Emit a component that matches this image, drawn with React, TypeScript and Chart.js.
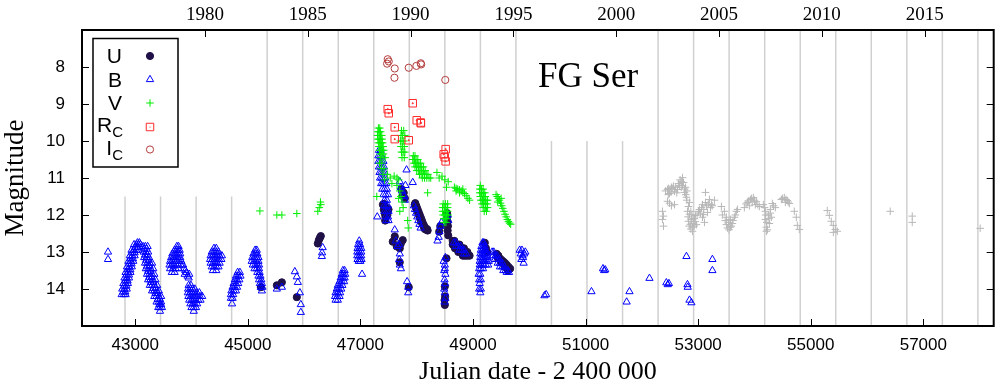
import React, { useEffect, useRef } from 'react';
import { Chart, registerables } from 'chart.js';
import { drawPoint } from 'chart.js/helpers';

Chart.register(...registerables);

type P = [number, number];

// ---------- data (JD - 2400000, magnitude) ----------
const uBand: P[] = [
  [45232, 13.95], [45516, 13.9], [45605, 13.82], [45871, 14.22],
  [46244, 12.77], [46262, 12.68], [46280, 12.62], [46297, 12.57],
  [47400, 11.72], [47415, 11.85], [47430, 11.95], [47445, 12.05], [47460, 11.8], [47440, 12.15],
  [47500, 11.85], [47480, 12.0], [47420, 11.7],
  [47611, 12.58], [47575, 12.72], [47646, 12.85], [47717, 12.78], [47752, 12.68], [47700, 12.9],
  [47699, 13.28], [47859, 13.95],
  [47752, 11.47], [47730, 11.3], [47770, 11.4], [47790, 11.55],
  [47965, 11.72], [47985, 11.78], [48005, 11.86], [48025, 11.94], [48045, 12.02], [48065, 12.1],
  [48085, 12.18], [48105, 12.25], [48125, 12.32], [48145, 12.38], [48175, 12.4], [48195, 12.42],
  [47975, 11.68], [47995, 11.76], [48015, 11.84], [48035, 11.92], [48055, 12.0], [48075, 12.08],
  [48095, 12.16], [48115, 12.24], [48135, 12.3], [48155, 12.36], [48185, 12.38],
  [48400, 12.45], [48420, 12.3], [48540, 11.95], [48545, 12.05], [48550, 12.18], [48555, 12.3],
  [48550, 12.42], [48560, 12.55], [48530, 13.17],
  [48500, 13.93], [48505, 14.2], [48500, 14.43], [48495, 14.3],
  [48640, 12.7], [48670, 12.7], [48640, 12.8], [48680, 12.8], [48720, 12.8], [48760, 12.8],
  [48680, 12.9], [48720, 12.9], [48760, 12.9], [48800, 12.9], [48840, 12.9],
  [48740, 13.0], [48780, 13.0], [48820, 13.0], [48860, 13.0], [48900, 13.0],
  [48820, 13.1], [48860, 13.1], [48900, 13.1], [48940, 13.1],
  [49210, 12.75], [49230, 12.9], [49250, 13.0],
  [49420, 13.05], [49450, 13.1], [49480, 13.18], [49510, 13.22], [49540, 13.26], [49570, 13.3],
  [49600, 13.35], [49630, 13.4], [49660, 13.45], [49440, 13.15], [49500, 13.28], [49560, 13.4], [49620, 13.5],
];

const bBand: P[] = [
  [42517, 13.0], [42517, 13.2],
  // 1976 rise
  [42760, 14.15], [42800, 14.15], [42830, 14.15], [42770, 14.0], [42810, 14.0], [42850, 14.0],
  [42790, 13.85], [42830, 13.85], [42870, 13.85], [42810, 13.7], [42850, 13.7], [42890, 13.7],
  [42830, 13.55], [42875, 13.55], [42915, 13.55], [42855, 13.4], [42900, 13.4], [42940, 13.4],
  [42880, 13.25], [42925, 13.25], [42965, 13.25], [42905, 13.1], [42950, 13.1], [42990, 13.1],
  [42935, 12.95], [42980, 12.95], [43020, 12.95], [43060, 12.95],
  [42980, 12.8], [43020, 12.8], [43055, 12.8], [43090, 12.8], [43040, 12.75], [43075, 12.75],
  [42785, 14.08], [42825, 14.08], [42805, 13.92], [42845, 13.92], [42825, 13.78], [42865, 13.78],
  [42845, 13.62], [42890, 13.62], [42870, 13.48], [42915, 13.48], [42890, 13.32], [42935, 13.32],
  [42915, 13.18], [42960, 13.18], [42945, 13.02], [42990, 13.02], [43000, 12.88], [43040, 12.88],
  // 1977 decline
  [43140, 12.85], [43180, 12.85], [43220, 12.85], [43150, 13.0], [43190, 13.0], [43230, 13.0],
  [43160, 13.15], [43200, 13.15], [43245, 13.15], [43175, 13.3], [43215, 13.3], [43260, 13.3], [43300, 13.3],
  [43190, 13.45], [43230, 13.45], [43275, 13.45], [43320, 13.45],
  [43210, 13.6], [43250, 13.6], [43295, 13.6], [43340, 13.6],
  [43230, 13.75], [43270, 13.75], [43315, 13.75], [43360, 13.75],
  [43260, 13.9], [43300, 13.9], [43340, 13.9], [43390, 13.9],
  [43300, 14.05], [43340, 14.05], [43380, 14.05], [43420, 14.05],
  [43340, 14.2], [43380, 14.2], [43420, 14.2], [43460, 14.2],
  [43380, 14.35], [43420, 14.35], [43460, 14.35], [43410, 14.5], [43440, 14.5], [43475, 14.5], [43440, 14.6],
  [43160, 12.92], [43200, 12.92], [43175, 13.08], [43215, 13.08], [43195, 13.22], [43240, 13.22],
  [43210, 13.38], [43255, 13.38], [43230, 13.52], [43275, 13.52], [43250, 13.68], [43295, 13.68],
  [43280, 13.82], [43325, 13.82], [43320, 13.98], [43365, 13.98], [43360, 14.12], [43400, 14.12],
  [43400, 14.28], [43440, 14.28], [43430, 14.42], [43460, 14.42],
  // 1978
  [43740, 12.85], [43770, 12.85], [43700, 12.95], [43730, 12.95], [43760, 12.95], [43790, 12.95],
  [43660, 13.05], [43700, 13.05], [43735, 13.05], [43770, 13.05], [43800, 13.05],
  [43640, 13.15], [43680, 13.15], [43720, 13.15], [43760, 13.15], [43800, 13.15],
  [43620, 13.25], [43660, 13.25], [43700, 13.25], [43740, 13.25], [43780, 13.25], [43820, 13.25],
  [43610, 13.35], [43650, 13.35], [43690, 13.35], [43730, 13.35], [43770, 13.35], [43810, 13.35],
  [43620, 13.45], [43670, 13.45], [43720, 13.45], [43770, 13.45], [43650, 13.55], [43700, 13.55],
  [43850, 13.35], [43870, 13.45], [43890, 13.5], [43910, 13.55], [43930, 13.65], [43950, 13.7],
  [43960, 13.6], [43880, 13.6],
  [43950, 13.9], [43990, 13.9], [43940, 14.0], [43980, 14.0], [44020, 14.0], [44060, 14.0],
  [43935, 14.1], [43975, 14.1], [44015, 14.1], [44055, 14.1], [44095, 14.1], [44140, 14.1],
  [43945, 14.2], [43985, 14.2], [44025, 14.2], [44065, 14.2], [44105, 14.2], [44150, 14.2], [44190, 14.2],
  [43960, 14.3], [44000, 14.3], [44040, 14.3], [44080, 14.3], [44120, 14.3], [44160, 14.3],
  [43980, 14.4], [44020, 14.4], [44060, 14.4], [44100, 14.4], [44000, 14.5], [44040, 14.5], [44080, 14.5], [44040, 14.6],
  // 1980
  [44400, 12.9], [44440, 12.9], [44360, 13.0], [44400, 13.0], [44440, 13.0], [44480, 13.0],
  [44340, 13.1], [44380, 13.1], [44420, 13.1], [44460, 13.1], [44500, 13.1], [44540, 13.1],
  [44330, 13.2], [44370, 13.2], [44410, 13.2], [44450, 13.2], [44490, 13.2], [44530, 13.2],
  [44340, 13.3], [44380, 13.3], [44420, 13.3], [44460, 13.3], [44500, 13.3],
  [44360, 13.4], [44400, 13.4], [44440, 13.4], [44480, 13.4], [44380, 13.5], [44440, 13.5],
  // 1981
  [44820, 13.55], [44860, 13.55], [44790, 13.65], [44830, 13.65], [44870, 13.65],
  [44770, 13.75], [44810, 13.75], [44850, 13.75], [44750, 13.85], [44790, 13.85], [44830, 13.85],
  [44730, 13.95], [44770, 13.95], [44810, 13.95], [44710, 14.05], [44750, 14.05], [44790, 14.05],
  [44700, 14.15], [44740, 14.15], [44700, 14.25], [44730, 14.25], [44720, 14.4],
  // 1982
  [45130, 12.95], [45160, 12.95], [45100, 13.05], [45140, 13.05], [45170, 13.05],
  [45080, 13.15], [45120, 13.15], [45160, 13.15], [45190, 13.15],
  [45070, 13.25], [45110, 13.25], [45150, 13.25], [45190, 13.25],
  [45090, 13.35], [45130, 13.35], [45170, 13.35], [45200, 13.35],
  [45120, 13.45], [45160, 13.45], [45200, 13.45], [45170, 13.55], [45210, 13.55],
  [45190, 13.65], [45225, 13.65], [45200, 13.75], [45240, 13.75], [45215, 13.85], [45250, 13.85],
  [45230, 13.95], [45260, 13.95], [45250, 14.05],
  [45516, 14.0], [45605, 13.95],
  [45836, 13.53], [45871, 13.67], [45889, 13.82], [45925, 14.1], [45942, 14.42], [45942, 14.63],
  [46330, 12.88], [46315, 13.12], [46320, 13.02],
  // 1986
  [46690, 13.5], [46720, 13.5], [46670, 13.6], [46700, 13.6], [46730, 13.6],
  [46650, 13.7], [46690, 13.7], [46720, 13.7], [46630, 13.8], [46670, 13.8], [46710, 13.8],
  [46600, 13.9], [46640, 13.9], [46680, 13.9], [46580, 14.0], [46620, 14.0], [46660, 14.0],
  [46560, 14.1], [46600, 14.1], [46640, 14.1], [46550, 14.2], [46590, 14.2], [46630, 14.2],
  [46560, 14.3], [46600, 14.3],
  // 1987
  [46980, 12.7], [46960, 12.8], [46995, 12.8], [46950, 12.9], [46985, 12.9], [47015, 12.9],
  [46945, 13.0], [46980, 13.0], [47015, 13.0], [46945, 13.1], [46980, 13.1], [47015, 13.1],
  [46950, 13.2], [46990, 13.2], [47020, 13.2], [46970, 13.25], [47000, 13.25], [47030, 13.6],
  // 1988 outburst
  [47330, 10.25], [47360, 10.25], [47320, 10.4], [47350, 10.4], [47380, 10.4],
  [47320, 10.55], [47350, 10.55], [47380, 10.55], [47410, 10.55],
  [47330, 10.7], [47360, 10.7], [47390, 10.7], [47420, 10.7],
  [47340, 10.85], [47370, 10.85], [47400, 10.85], [47430, 10.85],
  [47350, 11.0], [47380, 11.0], [47410, 11.0], [47440, 11.0],
  [47370, 11.15], [47400, 11.15], [47430, 11.15], [47460, 11.15],
  [47390, 11.3], [47430, 11.3], [47470, 11.3], [47410, 11.45], [47450, 11.45], [47490, 11.45],
  [47430, 11.6], [47470, 11.6], [47420, 11.75], [47460, 11.75], [47490, 11.75],
  [47430, 11.9], [47470, 11.9], [47500, 11.9], [47300, 12.05], [47450, 12.05], [47490, 12.05],
  [47460, 12.15], [47500, 12.15],
  [47610, 12.4], [47630, 12.7], [47660, 12.85], [47690, 12.8], [47700, 13.05], [47690, 13.2],
  [47700, 13.35], [47720, 13.45], [47830, 13.8], [47850, 13.95], [47850, 14.1], [47820, 10.78], [47930, 11.12],
  [47700, 11.1], [47720, 11.25], [47740, 11.35], [47760, 11.45], [47780, 11.5], [47800, 11.2], [47790, 11.6],
  [47950, 11.75], [47970, 11.85], [47990, 11.95], [48010, 12.05], [48030, 12.15], [48050, 12.25], [48070, 12.35],
  [48370, 12.7], [48390, 12.6], [48405, 12.45], [48420, 12.3], [48440, 12.2], [48550, 12.0], [48560, 12.15],
  [48480, 13.25], [48500, 13.35], [48490, 13.5], [48510, 13.6], [48495, 13.75], [48505, 13.85],
  [48490, 14.0], [48500, 14.1], [48510, 14.25], [48495, 14.35], [48500, 13.45], [48510, 13.15],
  [48660, 12.75], [48700, 12.75], [48700, 12.85], [48740, 12.85], [48780, 12.85],
  [48760, 12.95], [48800, 12.95], [48840, 12.95], [48840, 13.05], [48880, 13.05],
  // 1993
  [49170, 12.75], [49190, 12.75], [49150, 12.85], [49180, 12.85], [49210, 12.85],
  [49140, 12.95], [49170, 12.95], [49200, 12.95], [49230, 12.95],
  [49130, 13.05], [49160, 13.05], [49190, 13.05], [49220, 13.05], [49250, 13.05],
  [49130, 13.15], [49160, 13.15], [49190, 13.15], [49220, 13.15], [49260, 13.15],
  [49120, 13.25], [49150, 13.25], [49180, 13.25], [49210, 13.25], [49250, 13.25], [49280, 13.25],
  [49120, 13.35], [49150, 13.35], [49190, 13.35], [49230, 13.35], [49270, 13.35],
  [49110, 13.45], [49140, 13.45], [49180, 13.45], [49100, 13.6], [49130, 13.6],
  [49110, 13.75], [49140, 13.75], [49120, 13.85], [49110, 14.0], [49140, 14.0], [49130, 14.1],
  [49340, 13.0], [49370, 13.0], [49360, 13.1], [49400, 13.1], [49430, 13.1],
  [49390, 13.2], [49430, 13.2], [49470, 13.2], [49440, 13.3], [49480, 13.3], [49520, 13.3],
  [49480, 13.4], [49520, 13.4], [49560, 13.4], [49540, 13.5], [49580, 13.5], [49620, 13.5],
  [49600, 13.55], [49640, 13.55],
  [49830, 12.95], [49850, 13.05], [49870, 12.95], [49890, 13.15], [49900, 13.3], [49910, 13.05],
  [49930, 13.0], [49860, 13.2], [49880, 13.1],
  [50270, 14.18], [50300, 14.15],
  [51105, 14.07], [51310, 13.45], [51330, 13.5], [51350, 13.48],
  [51780, 14.07], [51730, 14.35], [52135, 13.71],
  [52435, 13.83], [52460, 13.88], [52480, 13.85],
  [52792, 13.12], [52810, 13.88], [52815, 13.95], [52846, 14.3], [52880, 14.37],
  [53253, 13.2], [53253, 13.5],
];

const vBand: P[] = [
  [45215, 11.89], [45516, 12.0], [45605, 12.0], [45871, 11.96], [46244, 11.9], [46270, 11.8],
  [46297, 11.72], [46290, 11.65], [47291, 11.5],
  [47320, 9.65], [47345, 9.65], [47310, 9.75], [47335, 9.75], [47360, 9.75],
  [47305, 9.85], [47330, 9.85], [47355, 9.85], [47380, 9.85],
  [47310, 9.95], [47335, 9.95], [47360, 9.95], [47385, 9.95],
  [47320, 10.05], [47345, 10.05], [47370, 10.05], [47395, 10.05],
  [47330, 10.15], [47355, 10.15], [47380, 10.15], [47405, 10.15],
  [47340, 10.25], [47365, 10.25], [47390, 10.25], [47415, 10.25],
  [47350, 10.35], [47380, 10.35], [47410, 10.35], [47360, 10.45], [47400, 10.45], [47440, 10.45],
  [47340, 10.6], [47380, 10.6], [47370, 10.75], [47420, 10.75], [47400, 10.9], [47480, 10.9], [47430, 11.05],
  [47530, 11.0], [47560, 11.15], [47600, 10.95], [47650, 11.0], [47680, 11.05],
  [47650, 11.2], [47700, 11.35], [47720, 11.5], [47740, 11.65], [47760, 11.8], [47680, 11.55],
  [47700, 11.9], [47840, 12.15], [47850, 12.35],
  [47730, 9.72], [47770, 9.72], [47720, 9.85], [47750, 9.85], [47790, 9.85],
  [47710, 10.0], [47740, 10.0], [47770, 10.0], [47720, 10.15], [47750, 10.15], [47780, 10.15],
  [47730, 10.3], [47760, 10.3], [47790, 10.3], [47740, 10.45], [47780, 10.45],
  [47940, 10.4], [47970, 10.4], [47930, 10.5], [47960, 10.5], [47990, 10.5], [48020, 10.5],
  [47950, 10.6], [47980, 10.6], [48010, 10.6], [48040, 10.6], [48070, 10.6],
  [47970, 10.7], [48000, 10.7], [48030, 10.7], [48060, 10.7], [48090, 10.7], [48120, 10.7],
  [48000, 10.8], [48030, 10.8], [48060, 10.8], [48090, 10.8], [48120, 10.8], [48150, 10.8],
  [48050, 10.9], [48080, 10.9], [48110, 10.9], [48140, 10.9], [48170, 10.9], [48200, 10.9],
  [48100, 11.0], [48140, 11.0], [48180, 11.0], [48220, 11.0], [48250, 11.0],
  [48195, 11.4],
  [48360, 10.85], [48400, 11.0], [48450, 10.95], [48500, 11.05], [48560, 11.1],
  [48470, 11.7], [48510, 11.7], [48550, 11.7], [48460, 11.8], [48490, 11.8], [48520, 11.8], [48550, 11.8],
  [48460, 11.9], [48490, 11.9], [48520, 11.9], [48550, 11.9], [48470, 12.0], [48500, 12.0], [48530, 12.0], [48560, 12.0],
  [48480, 12.1], [48510, 12.1], [48540, 12.1], [48490, 12.2], [48520, 12.2], [48530, 11.25],
  [48670, 11.25], [48700, 11.28], [48730, 11.3], [48760, 11.32], [48790, 11.35], [48820, 11.38],
  [48850, 11.42], [48880, 11.48], [48910, 11.55], [48700, 11.35], [48760, 11.4], [48820, 11.3], [48940, 11.6],
  [49130, 11.2], [49120, 11.3], [49150, 11.3], [49180, 11.3],
  [49120, 11.4], [49150, 11.4], [49180, 11.4], [49210, 11.4],
  [49130, 11.5], [49160, 11.5], [49190, 11.5], [49220, 11.5],
  [49140, 11.6], [49170, 11.6], [49200, 11.6], [49230, 11.6], [49260, 11.6],
  [49160, 11.7], [49190, 11.7], [49220, 11.7], [49250, 11.7],
  [49180, 11.8], [49220, 11.8], [49260, 11.8], [49200, 11.9], [49240, 11.9],
  [49410, 11.45], [49430, 11.5], [49450, 11.55], [49470, 11.6], [49490, 11.68], [49510, 11.75],
  [49530, 11.82], [49550, 11.9], [49570, 11.98], [49590, 12.05], [49610, 12.12], [49630, 12.18],
  [49650, 12.22], [49670, 12.25], [49440, 11.65], [49500, 11.55],
];

const rBand: P[] = [
  [47486, 9.14], [47504, 9.25], [47610, 9.63], [47610, 9.95], [47930, 8.98], [48001, 9.44],
  [48072, 9.5], [48075, 9.52], [47859, 9.98], [48515, 10.22], [48480, 10.36], [48498, 10.44], [48515, 10.55],
];

const iBand: P[] = [
  [47486, 7.79], [47504, 7.85], [47475, 7.91], [47610, 8.04], [47605, 8.29], [47859, 8.02],
  [47995, 7.97], [48072, 7.9], [48080, 7.93], [48508, 8.35],
];

const vLate: P[] = [
  [52366, 11.9], [52384, 12.03], [52366, 12.12], [52384, 12.3],
  [52455, 11.63], [52491, 11.68], [52526, 11.75], [52580, 11.72],
  [52455, 11.31], [52526, 11.25], [52580, 11.36], [52633, 11.31], [52491, 11.42], [52420, 11.35],
  [52470, 11.28], [52500, 11.3], [52540, 11.28], [52560, 11.22], [52600, 11.25], [52620, 11.4],
  [52650, 11.15], [52680, 11.05], [52700, 11.25], [52740, 11.12], [52760, 11.3], [52780, 11.45],
  [52800, 11.6], [52470, 11.45], [52520, 11.38], [52800, 11.35],
  [52668, 11.2], [52722, 10.99], [52722, 11.2], [52775, 11.25], [52757, 11.39], [52700, 11.1],
  [52793, 11.52], [52846, 11.66], [52828, 11.77],
  [52810, 11.9], [52846, 11.98], [52881, 12.12], [52917, 12.23], [52952, 12.01], [52828, 12.17],
  [52899, 12.33], [52899, 12.44], [52970, 12.26], [52935, 12.1], [53006, 11.9],
  [52820, 12.05], [52860, 12.25], [52870, 11.9], [52890, 12.0], [52910, 12.1], [52930, 12.3],
  [52950, 12.18], [52870, 12.38], [52980, 12.0], [52840, 12.3],
  [53023, 11.85], [53077, 11.72], [53130, 11.66], [53165, 11.93], [53201, 11.58], [53236, 11.72],
  [53094, 11.99], [53130, 11.39], [53077, 12.06], [53112, 12.2], [53289, 11.6],
  [53040, 11.95], [53060, 11.8], [53100, 11.85], [53150, 11.75], [53180, 11.7], [53220, 11.8], [53250, 11.75],
  [53413, 11.77], [53466, 11.9], [53502, 12.06], [53537, 12.2], [53573, 12.33], [53608, 12.23],
  [53644, 12.06], [53679, 11.9], [53502, 12.26], [53573, 12.12],
  [53430, 12.0], [53480, 12.15], [53520, 12.35], [53550, 12.4], [53590, 12.3], [53620, 12.15],
  [53660, 12.0], [53700, 11.85],
  [53821, 11.8], [53875, 11.66], [53928, 11.58], [53981, 11.53], [54034, 11.64], [54087, 11.77],
  [53910, 11.75], [54016, 11.72], [53850, 11.7], [53890, 11.62], [53950, 11.55], [53960, 11.65],
  [54000, 11.6], [54060, 11.72],
  [54158, 11.72], [54194, 11.9], [54194, 12.12], [54212, 12.33], [54212, 12.44], [54247, 12.0],
  [54283, 11.85], [54318, 11.69], [54371, 11.8], [54300, 12.06], [54265, 12.23],
  [54180, 11.8], [54200, 12.0], [54220, 12.2], [54230, 12.4], [54260, 12.1], [54280, 11.95], [54340, 11.75],
  [54478, 11.58], [54531, 11.53], [54584, 11.61], [54620, 11.69], [54549, 11.66],
  [54500, 11.55], [54560, 11.58], [54600, 11.65],
  [54708, 11.9], [54744, 12.06], [54762, 12.28], [54797, 12.39],
  [55294, 11.88], [55330, 12.01], [55365, 12.17], [55401, 12.28], [55436, 12.39], [55472, 12.44], [55401, 12.47],
  [56412, 11.9], [56803, 12.03], [56803, 12.2], [58010, 12.36],
];

// orbital-phase marker lines (JD) and the magnitude where each one starts
const orbitLines: number[] = [
  42819, 43450, 44082, 44713, 45344, 45975, 46607, 47238, 47869, 48500, 49132, 49763, 50394,
  51025, 51657, 52288, 52919, 53550, 54182, 54813, 55444, 56075, 56707, 57338, 57969,
];
const orbitLineTop: number[] = [
  11.5, 11.5, 11.5, 11.5, 7, 7, 7, 7, 7, 7, 7, 7, 10, 10, 10, 7, 7, 7, 7, 7, 7, 7, 7, 7, 7,
];

const xTickValues: number[] = [43000, 45000, 47000, 49000, 51000, 53000, 55000, 57000];
const yTickValues: number[] = [8, 9, 10, 11, 12, 13, 14];
const yearLabels: string[] = ['1980', '1985', '1990', '1995', '2000', '2005', '2010', '2015'];
const yearJD: number[] = [44239.5, 46066.5, 47892.5, 49718.5, 51544.5, 53371.5, 55197.5, 57023.5];

const X_MIN = 42055;
const X_MAX = 58250;
const Y_MIN = 7;
const Y_MAX = 15;

const SANS = "'Liberation Sans', Arial, sans-serif";
const SERIF = "'Liberation Serif', 'Times New Roman', serif";

const toXY = (a: P[]) => a.map(([x, y]) => ({ x, y }));

const COLORS = {
  U: '#1f1147',
  B: '#0000ff',
  V: '#00ee00',
  R: '#ff2a2a',
  I: '#b33b3b',
  late: '#b8b8b8',
  orbit: '#d0d0d0',
};

const legendItems = [
  { label: 'U', sub: '', style: 'circle', r: 3.6, fill: COLORS.U, stroke: COLORS.U },
  { label: 'B', sub: '', style: 'triangle', r: 4.2, fill: 'rgba(0,0,0,0)', stroke: COLORS.B },
  { label: 'V', sub: '', style: 'cross', r: 3.8, fill: 'rgba(0,0,0,0)', stroke: COLORS.V },
  { label: 'R', sub: 'C', style: 'rect', r: 5.3, fill: 'rgba(0,0,0,0)', stroke: COLORS.R },
  { label: 'I', sub: 'C', style: 'circle', r: 3.6, fill: 'rgba(0,0,0,0)', stroke: COLORS.I },
];

const framePlugin = {
  id: 'frameTicks',
  afterDatasetsDraw(chart: any) {
    const { ctx, chartArea: a, scales } = chart;
    ctx.save();
    ctx.strokeStyle = '#000';
    ctx.lineWidth = 1;
    const L = 7;
    ctx.beginPath();
    scales.x.ticks.forEach((t: any) => {
      const px = Math.round(scales.x.getPixelForValue(t.value)) + 0.5;
      ctx.moveTo(px, a.bottom);
      ctx.lineTo(px, a.bottom - L);
    });
    scales.x2.ticks.forEach((t: any) => {
      const px = Math.round(scales.x2.getPixelForValue(t.value)) + 0.5;
      ctx.moveTo(px, a.top);
      ctx.lineTo(px, a.top + L);
    });
    scales.y.ticks.forEach((t: any) => {
      const py = Math.round(scales.y.getPixelForValue(t.value)) + 0.5;
      ctx.moveTo(a.left, py);
      ctx.lineTo(a.left + L, py);
      ctx.moveTo(a.right, py);
      ctx.lineTo(a.right - L, py);
    });
    ctx.stroke();
    ctx.lineWidth = 2;
    ctx.strokeRect(a.left, a.top, a.right - a.left, a.bottom - a.top);
    ctx.restore();
  },
};

const annotPlugin = {
  id: 'annot',
  afterDraw(chart: any) {
    const { ctx } = chart;
    ctx.save();
    ctx.fillStyle = '#000';
    ctx.font = `35px ${SERIF}`;
    ctx.textAlign = 'left';
    ctx.textBaseline = 'alphabetic';
    ctx.fillText('FG Ser', 538, 87);

    ctx.lineWidth = 1.5;
    ctx.strokeStyle = '#000';
    ctx.strokeRect(93, 38.5, 85, 128.5);
    const baselines = [63, 87, 110, 132, 155];
    const symY = [56, 79.5, 103, 127, 149.5];
    legendItems.forEach((it, i) => {
      ctx.fillStyle = '#000';
      ctx.textBaseline = 'alphabetic';
      const rightX = 123;
      if (it.sub) {
        ctx.font = `15px ${SANS}`;
        const w = ctx.measureText(it.sub).width;
        ctx.textAlign = 'left';
        ctx.fillText(it.sub, rightX - w, baselines[i] + 5);
        ctx.font = `21px ${SANS}`;
        ctx.textAlign = 'right';
        ctx.fillText(it.label, rightX - w, baselines[i]);
      } else {
        ctx.font = `21px ${SANS}`;
        ctx.textAlign = 'right';
        ctx.fillText(it.label, rightX - 1, baselines[i]);
      }
      ctx.fillStyle = it.fill;
      ctx.strokeStyle = it.stroke;
      ctx.lineWidth = 1;
      drawPoint(ctx, { pointStyle: it.style, radius: it.r, rotation: 0, borderWidth: 1 } as any, 150, symY[i]);
      if (it.style === 'rect') {
        ctx.fillStyle = it.stroke;
        ctx.beginPath();
        ctx.arc(150, symY[i], 0.6, 0, Math.PI * 2);
        ctx.fill();
      }
    });
    ctx.restore();
  },
};

export default function App() {
  const ref = useRef<HTMLCanvasElement | null>(null);

  useEffect(() => {
    if (!ref.current) return;

    const lineSets = orbitLines.map((x, i) => ({
      data: [{ x, y: orbitLineTop[i] }, { x, y: Y_MAX }],
      showLine: true,
      borderColor: COLORS.orbit,
      borderWidth: 1.5,
      pointRadius: 0,
      order: 10,
    }));

    const pointSet = (data: P[], style: string, r: number, fill: string, stroke: string, order: number) => ({
      data: toXY(data),
      showLine: false,
      pointStyle: style,
      pointRadius: r,
      pointHoverRadius: r,
      pointBackgroundColor: fill,
      pointBorderColor: stroke,
      pointBorderWidth: 1,
      order,
    });

    const chart = new Chart(ref.current, {
      type: 'scatter',
      data: {
        datasets: [
          ...lineSets,
          pointSet(vLate, 'cross', 3.8, 'rgba(0,0,0,0)', COLORS.late, 6),
          pointSet(uBand, 'circle', 3.6, COLORS.U, COLORS.U, 5),
          pointSet(bBand, 'triangle', 4.2, 'rgba(0,0,0,0)', COLORS.B, 4),
          pointSet(vBand, 'cross', 3.8, 'rgba(0,0,0,0)', COLORS.V, 3),
          pointSet(rBand, 'rect', 5.3, 'rgba(0,0,0,0)', COLORS.R, 2),
          pointSet(rBand, 'circle', 0.6, COLORS.R, COLORS.R, 2),
          pointSet(iBand, 'circle', 3.6, 'rgba(0,0,0,0)', COLORS.I, 1),
        ] as any,
      },
      options: {
        animation: false,
        responsive: true,
        maintainAspectRatio: false,
        layout: { padding: { left: 0, right: 4, top: 0, bottom: 0 } },
        plugins: {
          legend: { display: false },
          tooltip: { enabled: false },
        },
        events: [],
        scales: {
          x: {
            type: 'linear',
            position: 'bottom',
            min: X_MIN,
            max: X_MAX,
            grid: { display: false, drawTicks: false },
            border: { display: false },
            afterBuildTicks: (s: any) => {
              s.ticks = xTickValues.map((v) => ({ value: v }));
            },
            afterFit: (s: any) => {
              s.height = 60;
            },
            ticks: {
              padding: 9,
              color: '#000',
              autoSkip: false,
              maxRotation: 0,
              font: { family: SANS, size: 17 },
              callback: (v: any) => String(v),
            },
            title: {
              display: true,
              text: 'Julian date - 2 400 000',
              color: '#000',
              font: { family: SERIF, size: 26, lineHeight: 1.1 },
              padding: { top: 0, bottom: 0 },
            },
          },
          x2: {
            type: 'linear',
            position: 'top',
            min: X_MIN,
            max: X_MAX,
            grid: { display: false, drawTicks: false },
            border: { display: false },
            afterBuildTicks: (s: any) => {
              s.ticks = yearJD.map((v) => ({ value: v }));
            },
            afterFit: (s: any) => {
              s.height = 30;
            },
            ticks: {
              padding: 4,
              color: '#000',
              autoSkip: false,
              maxRotation: 0,
              font: { family: SERIF, size: 19 },
              callback: (v: any) => {
                const i = yearJD.indexOf(Number(v));
                return i >= 0 ? yearLabels[i] : '';
              },
            },
          },
          y: {
            type: 'linear',
            reverse: true,
            min: Y_MIN,
            max: Y_MAX,
            grid: { display: false, drawTicks: false },
            border: { display: false },
            afterBuildTicks: (s: any) => {
              s.ticks = yTickValues.map((v) => ({ value: v }));
            },
            afterFit: (s: any) => {
              s.width = 82;
            },
            ticks: {
              padding: 17,
              color: '#000',
              font: { family: SANS, size: 17 },
              callback: (v: any) => String(v),
            },
            title: {
              display: true,
              text: 'Magnitude',
              color: '#000',
              font: { family: SERIF, size: 27, lineHeight: 1.2 },
              padding: { top: 0, bottom: 0 },
            },
          },
        },
      } as any,
      plugins: [framePlugin, annotPlugin],
    });

    return () => chart.destroy();
  }, []);

  return (
    <div style={{ position: 'absolute', left: 0, top: 0, width: 1000, height: 386, background: '#fff' }}>
      <canvas ref={ref} />
    </div>
  );
}
